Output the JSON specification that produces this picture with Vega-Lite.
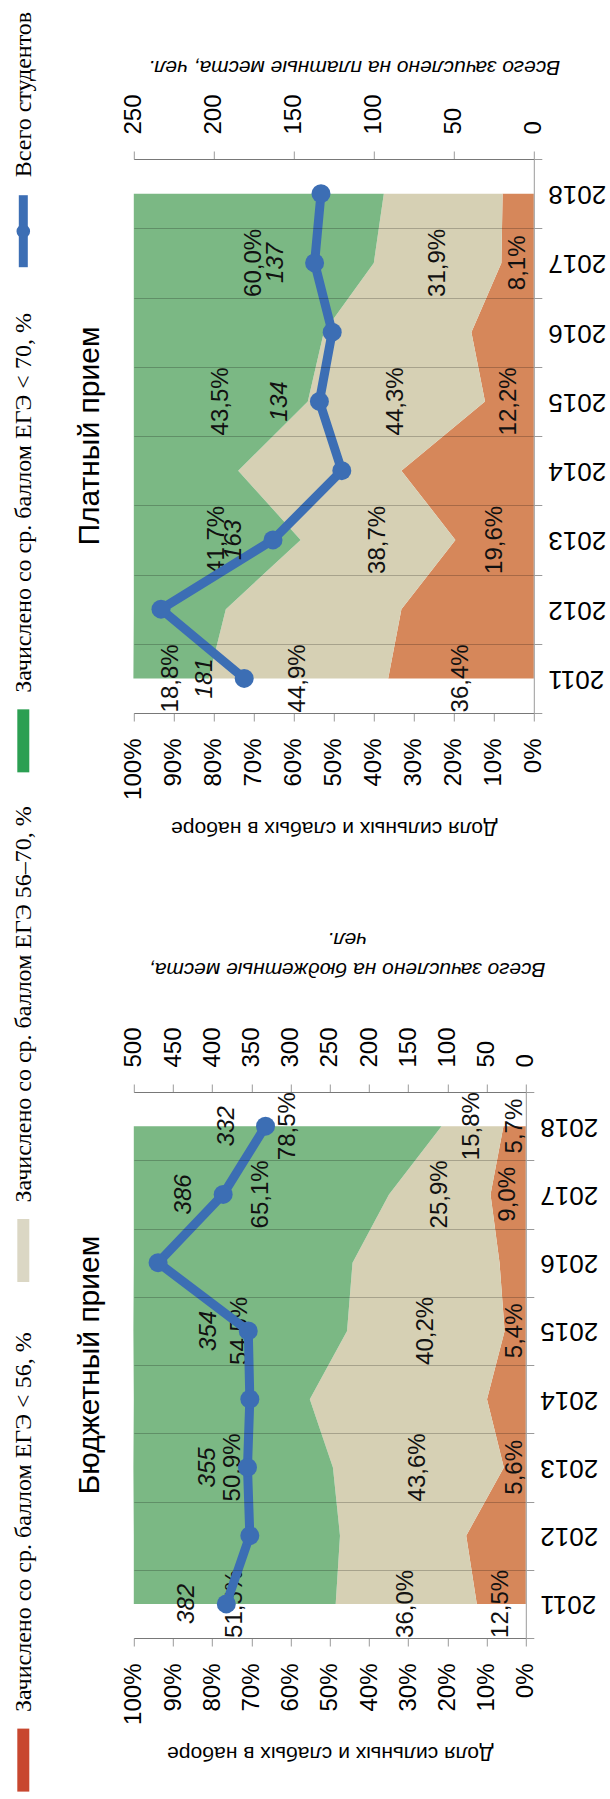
{
  "$schema": "https://vega.github.io/schema/vega-lite/v6.json",
  "background": "white",
  "padding": 0,
  "bounds": "flush",
  "spacing": 86.8,
  "resolve": {"scale": {"color": "independent"}},
  "config": {
    "view": {"stroke": null},
    "font": "Liberation Sans",
    "locale": {"number": {"decimal": ",", "thousands": " ", "grouping": [3], "currency": ["", ""]}},
    "axis": {"labelColor": "#000", "titleColor": "#000", "titleFontWeight": "normal", "domainColor": "#9a9a9a", "tickColor": "#9a9a9a", "labelFont": "Liberation Sans", "titleFont": "Liberation Sans", "labelOverlap": false, "labelSeparation": -200, "labelFlush": false}
  },
  "datasets": {
    "legend": [
      {"key": "total", "label": "Всего студентов"},
      {"key": "high", "label": "Зачислено со ср. баллом ЕГЭ  < 70, %"},
      {"key": "mid", "label": "Зачислено со ср. баллом ЕГЭ 56–70, %"},
      {"key": "low", "label": "Зачислено со ср. баллом ЕГЭ  < 56, %"}
    ],
    "paid_shares": [
      {"year": 2011, "grp": 1, "share": 0.364}, {"year": 2011, "grp": 2, "share": 0.449}, {"year": 2011, "grp": 3, "share": 0.188},
      {"year": 2012, "grp": 1, "share": 0.331}, {"year": 2012, "grp": 2, "share": 0.439}, {"year": 2012, "grp": 3, "share": 0.230},
      {"year": 2013, "grp": 1, "share": 0.196}, {"year": 2013, "grp": 2, "share": 0.387}, {"year": 2013, "grp": 3, "share": 0.417},
      {"year": 2014, "grp": 1, "share": 0.331}, {"year": 2014, "grp": 2, "share": 0.408}, {"year": 2014, "grp": 3, "share": 0.261},
      {"year": 2015, "grp": 1, "share": 0.122}, {"year": 2015, "grp": 2, "share": 0.443}, {"year": 2015, "grp": 3, "share": 0.435},
      {"year": 2016, "grp": 1, "share": 0.156}, {"year": 2016, "grp": 2, "share": 0.369}, {"year": 2016, "grp": 3, "share": 0.475},
      {"year": 2017, "grp": 1, "share": 0.081}, {"year": 2017, "grp": 2, "share": 0.319}, {"year": 2017, "grp": 3, "share": 0.600},
      {"year": 2018, "grp": 1, "share": 0.078}, {"year": 2018, "grp": 2, "share": 0.297}, {"year": 2018, "grp": 3, "share": 0.625}
    ],
    "paid_counts": [
      {"year": 2011, "n": 181}, {"year": 2012, "n": 233}, {"year": 2013, "n": 163}, {"year": 2014, "n": 120},
      {"year": 2015, "n": 134}, {"year": 2016, "n": 126}, {"year": 2017, "n": 137}, {"year": 2018, "n": 133}
    ],
    "budget_shares": [
      {"year": 2011, "grp": 1, "share": 0.125}, {"year": 2011, "grp": 2, "share": 0.360}, {"year": 2011, "grp": 3, "share": 0.515},
      {"year": 2012, "grp": 1, "share": 0.152}, {"year": 2012, "grp": 2, "share": 0.322}, {"year": 2012, "grp": 3, "share": 0.526},
      {"year": 2013, "grp": 1, "share": 0.056}, {"year": 2013, "grp": 2, "share": 0.436}, {"year": 2013, "grp": 3, "share": 0.509},
      {"year": 2014, "grp": 1, "share": 0.099}, {"year": 2014, "grp": 2, "share": 0.452}, {"year": 2014, "grp": 3, "share": 0.449},
      {"year": 2015, "grp": 1, "share": 0.054}, {"year": 2015, "grp": 2, "share": 0.402}, {"year": 2015, "grp": 3, "share": 0.545},
      {"year": 2016, "grp": 1, "share": 0.067}, {"year": 2016, "grp": 2, "share": 0.375}, {"year": 2016, "grp": 3, "share": 0.558},
      {"year": 2017, "grp": 1, "share": 0.090}, {"year": 2017, "grp": 2, "share": 0.259}, {"year": 2017, "grp": 3, "share": 0.651},
      {"year": 2018, "grp": 1, "share": 0.057}, {"year": 2018, "grp": 2, "share": 0.158}, {"year": 2018, "grp": 3, "share": 0.785}
    ],
    "budget_counts": [
      {"year": 2011, "n": 382}, {"year": 2012, "n": 352}, {"year": 2013, "n": 355}, {"year": 2014, "n": 352},
      {"year": 2015, "n": 354}, {"year": 2016, "n": 469}, {"year": 2017, "n": 386}, {"year": 2018, "n": 332}
    ]
  },
  "hconcat": [
    {
      "width": 46.6,
      "height": 1799,
      "data": {"name": "legend"},
      "encoding": {
        "y": {"field": "key", "type": "nominal", "axis": null,
              "scale": {"type": "point", "domain": ["total", "high", "mid", "low"], "padding": 0.265, "align": 0.856}}
      },
      "layer": [
        {
          "transform": [{"filter": "datum.key != 'total'"}],
          "mark": {"type": "tick", "orient": "vertical", "size": 63, "thickness": 12, "opacity": 1},
          "encoding": {"color": {"field": "key", "type": "nominal", "legend": null,
            "scale": {"domain": ["total", "high", "mid", "low"], "range": ["#3C6EB4", "#2B9F52", "#DBD7C4", "#C8472F"]}}}
        },
        {
          "transform": [{"filter": "datum.key == 'total'"}],
          "mark": {"type": "tick", "orient": "vertical", "size": 72, "thickness": 9, "opacity": 1, "color": "#3C6EB4"},
          "encoding": {}
        },
        {
          "transform": [{"filter": "datum.key == 'total'"}],
          "mark": {"type": "circle", "size": 185, "opacity": 1, "color": "#3C6EB4"},
          "encoding": {}
        },
        {
          "transform": [{"filter": "datum.key != 'total'"}],
          "mark": {"type": "text", "angle": 270, "align": "left", "baseline": "alphabetic", "dx": 48, "dy": 8, "font": "Liberation Serif", "fontSize": 24, "color": "#000"},
          "encoding": {"text": {"field": "label"}}
        },
        {
          "transform": [{"filter": "datum.key == 'total'"}],
          "mark": {"type": "text", "angle": 270, "align": "left", "baseline": "alphabetic", "dx": 54, "dy": 8, "font": "Liberation Serif", "fontSize": 24, "color": "#000"},
          "encoding": {"text": {"field": "label"}}
        }
      ]
    },
    {
      "bounds": "flush",
      "spacing": 0,
      "vconcat": [
        {
          "width": 400,
          "height": 159,
          "data": {"values": [{}]},
          "mark": {"type": "text"},
          "encoding": {"text": {"value": ""}}
        },
        {
          "bounds": "flush",
          "spacing": 379,
          "vconcat": [
            {
              "width": 400,
              "height": 554,
              "title": {"text": "Платный прием", "orient": "left", "anchor": "middle", "offset": 17, "fontSize": 30, "fontWeight": "normal", "font": "Liberation Sans", "color": "#000"},
              "layer": [
                {
                  "data": {"name": "paid_shares"},
                  "transform": [{"stack": "share", "groupby": ["year"], "sort": [{"field": "grp"}], "as": ["s0", "s1"]}],
                  "layer": [
                    {
                      "mark": {"type": "area", "orient": "horizontal", "opacity": 1},
                      "encoding": {
                        "y": {"field": "year", "type": "ordinal", "sort": "descending", "bandPosition": 0.5,
                              "scale": {"type": "band", "paddingInner": 0, "paddingOuter": 0},
                              "axis": {"orient": "right", "title": null, "labelAngle": 180, "labelAlign": "right", "labelBaseline": "middle", "labelFontSize": 26, "labelPadding": 6, "tickSize": 8, "tickBand": "extent", "grid": true, "gridColor": "#000", "gridOpacity": 0.22, "gridWidth": 1.2, "zindex": 1}},
                        "x": {"field": "s0", "type": "quantitative",
                              "scale": {"domain": [0, 1], "reverse": true, "nice": false, "zero": false},
                              "axis": {"orient": "bottom", "values": [0, 0.1, 0.2, 0.3, 0.4, 0.5, 0.6, 0.7, 0.8, 0.9, 1], "format": ".0%", "labelAngle": -90, "labelAlign": "right", "labelBaseline": "middle", "labelFlush": false, "labelOverlap": false, "labelSeparation": -200, "labelFontSize": 24, "labelPadding": 17, "tickSize": 8, "grid": false, "title": "Доля сильных и слабых в наборе", "titleAngle": 180, "titleBaseline": "bottom", "titleFontSize": 21, "titlePadding": 18}},
                        "x2": {"field": "s1"},
                        "color": {"field": "grp", "type": "nominal", "legend": null,
                                  "scale": {"domain": [1, 2, 3], "range": ["#D6875A", "#D6D0B4", "#7BB884"]}}
                      }
                    },
                    {
                      "transform": [{"filter": {"field": "year", "oneOf": [2011, 2013, 2015, 2017]}}, {"calculate": "(datum.s0 + datum.s1) / 2", "as": "mid"}],
                      "mark": {"type": "text", "angle": 270, "align": "center", "baseline": "middle", "fontSize": 24, "color": "#111"},
                      "encoding": {
                        "y": {"field": "year", "type": "ordinal", "sort": "descending", "bandPosition": 0.5, "scale": {"type": "band", "paddingInner": 0, "paddingOuter": 0},
                              "axis": {"orient": "right", "title": null, "labelAngle": 180, "labelAlign": "right", "labelBaseline": "middle", "labelFontSize": 26, "labelPadding": 6, "tickSize": 8, "tickBand": "extent", "grid": true, "gridColor": "#000", "gridOpacity": 0.22, "gridWidth": 1.2, "zindex": 1}},
                        "x": {"field": "mid", "type": "quantitative", "scale": {"domain": [0, 1], "reverse": true, "nice": false, "zero": false},
                              "axis": {"orient": "bottom", "values": [0, 0.1, 0.2, 0.3, 0.4, 0.5, 0.6, 0.7, 0.8, 0.9, 1], "format": ".0%", "labelAngle": -90, "labelAlign": "right", "labelBaseline": "middle", "labelFlush": false, "labelOverlap": false, "labelSeparation": -200, "labelFontSize": 24, "labelPadding": 17, "tickSize": 8, "grid": false, "title": "Доля сильных и слабых в наборе", "titleAngle": 180, "titleBaseline": "bottom", "titleFontSize": 21, "titlePadding": 18}},
                        "text": {"field": "share", "type": "quantitative", "format": ".1%"}
                      }
                    }
                  ]
                },
                {
                  "data": {"name": "paid_counts"},
                  "layer": [
                    {
                      "mark": {"type": "line", "color": "#3C6EB4", "strokeWidth": 9, "strokeJoin": "round"},
                      "encoding": {
                        "y": {"field": "year", "type": "ordinal", "sort": "descending", "bandPosition": 0.5, "scale": {"type": "band", "paddingInner": 0, "paddingOuter": 0},
                              "axis": {"orient": "right", "title": null, "labelAngle": 180, "labelAlign": "right", "labelBaseline": "middle", "labelFontSize": 26, "labelPadding": 6, "tickSize": 8, "tickBand": "extent", "grid": true, "gridColor": "#000", "gridOpacity": 0.22, "gridWidth": 1.2, "zindex": 1}},
                        "x": {"field": "n", "type": "quantitative", "scale": {"domain": [0, 250], "reverse": true, "nice": false},
                              "axis": {"orient": "top", "values": [0, 50, 100, 150, 200, 250], "format": "d", "labelAngle": -90, "labelAlign": "left", "labelBaseline": "middle", "labelFlush": false, "labelOverlap": false, "labelFontSize": 24, "labelPadding": 17, "tickSize": 8, "grid": false, "title": "Всего зачислено на платные места, чел.", "titleAngle": 180, "titleBaseline": "top", "titleFontStyle": "italic", "titleFontSize": 21, "titlePadding": 16, "titleX": 220}}
                      }
                    },
                    {
                      "mark": {"type": "circle", "size": 361, "opacity": 1, "color": "#3C6EB4"},
                      "encoding": {
                        "y": {"field": "year", "type": "ordinal", "sort": "descending", "bandPosition": 0.5, "scale": {"type": "band", "paddingInner": 0, "paddingOuter": 0},
                              "axis": {"orient": "right", "title": null, "labelAngle": 180, "labelAlign": "right", "labelBaseline": "middle", "labelFontSize": 26, "labelPadding": 6, "tickSize": 8, "tickBand": "extent", "grid": true, "gridColor": "#000", "gridOpacity": 0.22, "gridWidth": 1.2, "zindex": 1}},
                        "x": {"field": "n", "type": "quantitative", "scale": {"domain": [0, 250], "reverse": true, "nice": false},
                              "axis": {"orient": "top", "values": [0, 50, 100, 150, 200, 250], "format": "d", "labelAngle": -90, "labelAlign": "left", "labelBaseline": "middle", "labelFlush": false, "labelOverlap": false, "labelFontSize": 24, "labelPadding": 17, "tickSize": 8, "grid": false, "title": "Всего зачислено на платные места, чел.", "titleAngle": 180, "titleBaseline": "top", "titleFontStyle": "italic", "titleFontSize": 21, "titlePadding": 16, "titleX": 220}}
                      }
                    },
                    {
                      "transform": [{"filter": {"field": "year", "oneOf": [2011, 2013, 2015, 2017]}}],
                      "mark": {"type": "text", "angle": 270, "align": "center", "baseline": "middle", "dy": -39, "fontSize": 24, "fontStyle": "italic", "color": "#111"},
                      "encoding": {
                        "y": {"field": "year", "type": "ordinal", "sort": "descending", "bandPosition": 0.5, "scale": {"type": "band", "paddingInner": 0, "paddingOuter": 0},
                              "axis": {"orient": "right", "title": null, "labelAngle": 180, "labelAlign": "right", "labelBaseline": "middle", "labelFontSize": 26, "labelPadding": 6, "tickSize": 8, "tickBand": "extent", "grid": true, "gridColor": "#000", "gridOpacity": 0.22, "gridWidth": 1.2, "zindex": 1}},
                        "x": {"field": "n", "type": "quantitative", "scale": {"domain": [0, 250], "reverse": true, "nice": false},
                              "axis": {"orient": "top", "values": [0, 50, 100, 150, 200, 250], "format": "d", "labelAngle": -90, "labelAlign": "left", "labelBaseline": "middle", "labelFlush": false, "labelOverlap": false, "labelFontSize": 24, "labelPadding": 17, "tickSize": 8, "grid": false, "title": "Всего зачислено на платные места, чел.", "titleAngle": 180, "titleBaseline": "top", "titleFontStyle": "italic", "titleFontSize": 21, "titlePadding": 16, "titleX": 220}},
                        "text": {"field": "n", "type": "quantitative", "format": "d"}
                      }
                    }
                  ]
                }
              ],
              "resolve": {"scale": {"x": "independent"}, "axis": {"x": "independent"}}
            },
            {
              "width": 392,
              "height": 546,
              "title": {"text": "Бюджетный прием", "orient": "left", "anchor": "middle", "offset": 17, "fontSize": 30, "fontWeight": "normal", "font": "Liberation Sans", "color": "#000"},
              "layer": [
                {
                  "data": {"name": "budget_shares"},
                  "transform": [{"stack": "share", "groupby": ["year"], "sort": [{"field": "grp"}], "as": ["s0", "s1"]}],
                  "layer": [
                    {
                      "mark": {"type": "area", "orient": "horizontal", "opacity": 1},
                      "encoding": {
                        "y": {"field": "year", "type": "ordinal", "sort": "descending", "bandPosition": 0.5,
                              "scale": {"type": "band", "paddingInner": 0, "paddingOuter": 0},
                              "axis": {"orient": "right", "title": null, "labelAngle": 180, "labelAlign": "right", "labelBaseline": "middle", "labelFontSize": 26, "labelPadding": 6, "tickSize": 8, "tickBand": "extent", "grid": true, "gridColor": "#000", "gridOpacity": 0.22, "gridWidth": 1.2, "zindex": 1}},
                        "x": {"field": "s0", "type": "quantitative",
                              "scale": {"domain": [0, 1], "reverse": true, "nice": false, "zero": false},
                              "axis": {"orient": "bottom", "values": [0, 0.1, 0.2, 0.3, 0.4, 0.5, 0.6, 0.7, 0.8, 0.9, 1], "format": ".0%", "labelAngle": -90, "labelAlign": "right", "labelBaseline": "middle", "labelFlush": false, "labelOverlap": false, "labelSeparation": -200, "labelFontSize": 24, "labelPadding": 17, "tickSize": 8, "grid": false, "title": "Доля сильных и слабых в наборе", "titleAngle": 180, "titleBaseline": "bottom", "titleFontSize": 21, "titlePadding": 18}},
                        "x2": {"field": "s1"},
                        "color": {"field": "grp", "type": "nominal", "legend": null,
                                  "scale": {"domain": [1, 2, 3], "range": ["#D6875A", "#D6D0B4", "#7BB884"]}}
                      }
                    },
                    {
                      "transform": [{"filter": {"field": "year", "oneOf": [2011, 2013, 2015, 2017, 2018]}}, {"calculate": "(datum.s0 + datum.s1) / 2", "as": "mid"}],
                      "mark": {"type": "text", "angle": 270, "align": "center", "baseline": "middle", "fontSize": 24, "color": "#111"},
                      "encoding": {
                        "y": {"field": "year", "type": "ordinal", "sort": "descending", "bandPosition": 0.5, "scale": {"type": "band", "paddingInner": 0, "paddingOuter": 0},
                              "axis": {"orient": "right", "title": null, "labelAngle": 180, "labelAlign": "right", "labelBaseline": "middle", "labelFontSize": 26, "labelPadding": 6, "tickSize": 8, "tickBand": "extent", "grid": true, "gridColor": "#000", "gridOpacity": 0.22, "gridWidth": 1.2, "zindex": 1}},
                        "x": {"field": "mid", "type": "quantitative", "scale": {"domain": [0, 1], "reverse": true, "nice": false, "zero": false},
                              "axis": {"orient": "bottom", "values": [0, 0.1, 0.2, 0.3, 0.4, 0.5, 0.6, 0.7, 0.8, 0.9, 1], "format": ".0%", "labelAngle": -90, "labelAlign": "right", "labelBaseline": "middle", "labelFlush": false, "labelOverlap": false, "labelSeparation": -200, "labelFontSize": 24, "labelPadding": 17, "tickSize": 8, "grid": false, "title": "Доля сильных и слабых в наборе", "titleAngle": 180, "titleBaseline": "bottom", "titleFontSize": 21, "titlePadding": 18}},
                        "text": {"field": "share", "type": "quantitative", "format": ".1%"}
                      }
                    }
                  ]
                },
                {
                  "data": {"name": "budget_counts"},
                  "layer": [
                    {
                      "mark": {"type": "line", "color": "#3C6EB4", "strokeWidth": 9, "strokeJoin": "round"},
                      "encoding": {
                        "y": {"field": "year", "type": "ordinal", "sort": "descending", "bandPosition": 0.5, "scale": {"type": "band", "paddingInner": 0, "paddingOuter": 0},
                              "axis": {"orient": "right", "title": null, "labelAngle": 180, "labelAlign": "right", "labelBaseline": "middle", "labelFontSize": 26, "labelPadding": 6, "tickSize": 8, "tickBand": "extent", "grid": true, "gridColor": "#000", "gridOpacity": 0.22, "gridWidth": 1.2, "zindex": 1}},
                        "x": {"field": "n", "type": "quantitative", "scale": {"domain": [0, 500], "reverse": true, "nice": false},
                              "axis": {"orient": "top", "values": [0, 50, 100, 150, 200, 250, 300, 350, 400, 450, 500], "format": "d", "labelAngle": -90, "labelAlign": "left", "labelBaseline": "middle", "labelFlush": false, "labelOverlap": false, "labelFontSize": 24, "labelPadding": 17, "tickSize": 8, "grid": false, "title": ["Всего зачислено на бюджетные места,", "чел."], "titleAngle": 180, "titleBaseline": "top", "titleFontStyle": "italic", "titleFontSize": 21, "titleLineHeight": 30, "titlePadding": 17, "titleX": 213}}
                      }
                    },
                    {
                      "mark": {"type": "circle", "size": 361, "opacity": 1, "color": "#3C6EB4"},
                      "encoding": {
                        "y": {"field": "year", "type": "ordinal", "sort": "descending", "bandPosition": 0.5, "scale": {"type": "band", "paddingInner": 0, "paddingOuter": 0},
                              "axis": {"orient": "right", "title": null, "labelAngle": 180, "labelAlign": "right", "labelBaseline": "middle", "labelFontSize": 26, "labelPadding": 6, "tickSize": 8, "tickBand": "extent", "grid": true, "gridColor": "#000", "gridOpacity": 0.22, "gridWidth": 1.2, "zindex": 1}},
                        "x": {"field": "n", "type": "quantitative", "scale": {"domain": [0, 500], "reverse": true, "nice": false},
                              "axis": {"orient": "top", "values": [0, 50, 100, 150, 200, 250, 300, 350, 400, 450, 500], "format": "d", "labelAngle": -90, "labelAlign": "left", "labelBaseline": "middle", "labelFlush": false, "labelOverlap": false, "labelFontSize": 24, "labelPadding": 17, "tickSize": 8, "grid": false, "title": ["Всего зачислено на бюджетные места,", "чел."], "titleAngle": 180, "titleBaseline": "top", "titleFontStyle": "italic", "titleFontSize": 21, "titleLineHeight": 30, "titlePadding": 17, "titleX": 213}}
                      }
                    },
                    {
                      "transform": [{"filter": {"field": "year", "oneOf": [2011, 2013, 2015, 2017, 2018]}}],
                      "mark": {"type": "text", "angle": 270, "align": "center", "baseline": "middle", "dy": -39, "fontSize": 24, "fontStyle": "italic", "color": "#111"},
                      "encoding": {
                        "y": {"field": "year", "type": "ordinal", "sort": "descending", "bandPosition": 0.5, "scale": {"type": "band", "paddingInner": 0, "paddingOuter": 0},
                              "axis": {"orient": "right", "title": null, "labelAngle": 180, "labelAlign": "right", "labelBaseline": "middle", "labelFontSize": 26, "labelPadding": 6, "tickSize": 8, "tickBand": "extent", "grid": true, "gridColor": "#000", "gridOpacity": 0.22, "gridWidth": 1.2, "zindex": 1}},
                        "x": {"field": "n", "type": "quantitative", "scale": {"domain": [0, 500], "reverse": true, "nice": false},
                              "axis": {"orient": "top", "values": [0, 50, 100, 150, 200, 250, 300, 350, 400, 450, 500], "format": "d", "labelAngle": -90, "labelAlign": "left", "labelBaseline": "middle", "labelFlush": false, "labelOverlap": false, "labelFontSize": 24, "labelPadding": 17, "tickSize": 8, "grid": false, "title": ["Всего зачислено на бюджетные места,", "чел."], "titleAngle": 180, "titleBaseline": "top", "titleFontStyle": "italic", "titleFontSize": 21, "titleLineHeight": 30, "titlePadding": 17, "titleX": 213}},
                        "text": {"field": "n", "type": "quantitative", "format": "d"}
                      }
                    }
                  ]
                }
              ],
              "resolve": {"scale": {"x": "independent"}, "axis": {"x": "independent"}}
            }
          ]
        }
      ]
    }
  ]
}
